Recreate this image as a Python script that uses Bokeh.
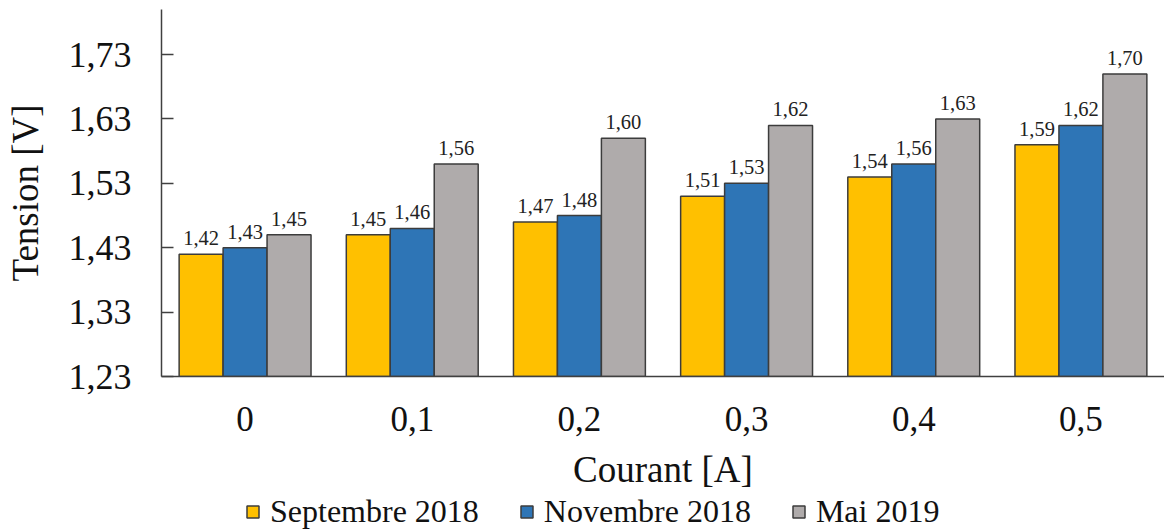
from bokeh.plotting import figure
from bokeh.layouts import column
from bokeh.models import (ColumnDataSource, FactorRange, Range1d, FixedTicker,
                          CustomJSTickFormatter, Legend, LegendItem)
from bokeh.transform import dodge
from bokeh.core.properties import value
from bokeh.embed import file_html
from bokeh.resources import INLINE

categories = ["0", "0,1", "0,2", "0,3", "0,4", "0,5"]
sept_2018 = [1.42, 1.45, 1.47, 1.51, 1.54, 1.59]
nov_2018 = [1.43, 1.46, 1.48, 1.53, 1.56, 1.62]
mai_2019 = [1.45, 1.56, 1.60, 1.62, 1.63, 1.70]
series_names = ["Septembre 2018", "Novembre 2018", "Mai 2019"]
colors = ["#FFC000", "#2E75B6", "#AFABAB"]
y_ticks = [1.23, 1.33, 1.43, 1.53, 1.63, 1.73]

FONT = "Liberation Serif"
OUTLINE = "#3c3c3c"

def fmt(v):
    return f"{v:.2f}".replace(".", ",")

src = ColumnDataSource(data=dict(
    cat=categories,
    s=sept_2018, n=nov_2018, m=mai_2019,
    s_lbl=[fmt(v) for v in sept_2018],
    n_lbl=[fmt(v) for v in nov_2018],
    m_lbl=[fmt(v) for v in mai_2019],
))

LEFT = 161
FRAME_W = 1003

p = figure(x_range=FactorRange(factors=categories, range_padding=0),
           y_range=Range1d(1.23, 1.80),
           frame_width=FRAME_W, frame_height=367,
           min_border_left=LEFT, min_border_right=0, min_border_top=9,
           min_border_bottom=0,
           output_backend="svg", toolbar_location=None)

p.outline_line_color = None
p.xgrid.visible = False
p.ygrid.visible = False

bw = 0.263
offsets = [-bw, 0.0, bw]
cols = ["s", "n", "m"]
for off, col, c in zip(offsets, cols, colors):
    p.vbar(x=dodge("cat", off, range=p.x_range), top=col, bottom=1.23,
           width=bw, source=src, fill_color=c,
           line_color=OUTLINE, line_width=1.5)
    p.text(x=dodge("cat", off, range=p.x_range), y=col, text=col + "_lbl",
           source=src, text_align="center", text_baseline="bottom",
           y_offset=-9, text_font=value(FONT), text_font_size="20.5px",
           text_color="#222222")

# Y axis
yax = p.yaxis[0]
yax.ticker = FixedTicker(ticks=y_ticks)
yax.formatter = CustomJSTickFormatter(code="return tick.toFixed(2).replace('.', ',');")
yax.major_tick_in = 12
yax.major_tick_out = 0
yax.minor_tick_line_color = None
yax.major_label_standoff = 30
yax.major_label_text_font = FONT
yax.major_label_text_font_size = "36px"
yax.major_label_text_color = "#111111"
yax.axis_label = "Tension [V]"
yax.axis_label_text_font = FONT
yax.axis_label_text_font_size = "37px"
yax.axis_label_text_font_style = "normal"
yax.axis_label_text_color = "#111111"
yax.axis_label_standoff = 20
yax.axis_line_color = "#404040"
yax.axis_line_width = 1.5
yax.major_tick_line_color = "#404040"
yax.major_tick_line_width = 1.5

# X axis
xax = p.xaxis[0]
xax.major_tick_in = 0
xax.major_tick_out = 0
xax.major_tick_line_color = None
xax.minor_tick_line_color = None
xax.major_label_standoff = 30
xax.major_label_text_font = FONT
xax.major_label_text_font_size = "35px"
xax.major_label_text_color = "#111111"
xax.axis_label = "Courant [A]"
xax.axis_label_text_font = FONT
xax.axis_label_text_font_size = "37px"
xax.axis_label_text_font_style = "normal"
xax.axis_label_text_color = "#111111"
xax.axis_label_standoff = 15
xax.axis_line_color = "#404040"
xax.axis_line_width = 1.5

# Legend strip: a small figure whose hidden bar renderers serve as legend keys
pl = figure(width=LEFT + FRAME_W, height=38, min_border=0,
            x_range=Range1d(0, 1), y_range=Range1d(0, 1),
            output_backend="svg", toolbar_location=None)
pl.outline_line_color = None
pl.xaxis.visible = False
pl.yaxis.visible = False
pl.xgrid.visible = False
pl.ygrid.visible = False
key_renderers = []
for col, c in zip(cols, colors):
    r = pl.vbar(x=col, top=col, width=0.1, source=src, fill_color=c,
                line_color=OUTLINE, line_width=1.5, visible=False)
    key_renderers.append(r)

legend = Legend(items=[LegendItem(label=nm, renderers=[r])
                       for nm, r in zip(series_names, key_renderers)],
                orientation="horizontal", location=(84, 0),
                padding=0, margin=0, spacing=40,
                glyph_width=15, glyph_height=15, label_standoff=10,
                label_text_font=FONT, label_text_font_size="32px",
                label_text_color="#111111", click_policy="none",
                border_line_alpha=0, background_fill_alpha=0)
pl.add_layout(legend, "center")

layout = column(p, pl, spacing=0)
open("out.html", "w").write(file_html(layout, INLINE))
